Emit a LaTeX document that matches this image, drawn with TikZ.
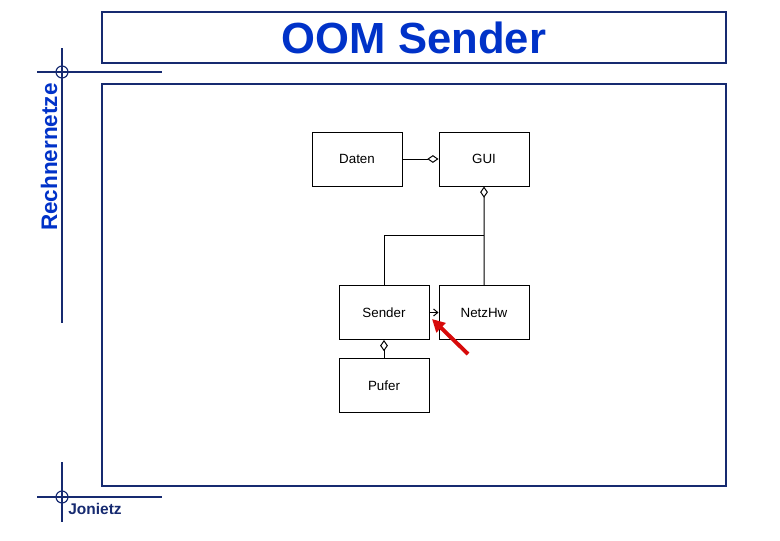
\documentclass[tikz,border=0pt]{standalone}
\usepackage{fontspec}
\setmainfont{Liberation Sans}
\usepackage{xcolor}
\usetikzlibrary{positioning,arrows.meta}

\definecolor{framecol}{RGB}{22,42,112}
\definecolor{titlecol}{RGB}{0,50,200}
\definecolor{hintcol}{RGB}{215,10,10}

\begin{document}
\begin{tikzpicture}[
    x=0.025cm, y=-0.025cm,
    font=\fontsize{9.5}{11}\selectfont,
    cls/.style={draw, line width=0.7pt, minimum width=2.25cm, minimum height=1.35cm, inner sep=0pt},
    link/.style={line width=0.7pt},
    aggr/.style={link, -{Diamond[open, length=8pt, width=5.5pt]}},
    nav/.style={link, -{Straight Barb[length=3pt, width=5pt]}},
    frame/.style={draw=framecol, line width=0.8pt},
    node distance=0.9cm,
]
\useasboundingbox (0,0) rectangle (780,540);

% page frame
\draw[frame] (102,12) rectangle (726,63);
\draw[frame] (102,84) rectangle (726,486);
\node[font=\bfseries\fontsize{31}{31}\selectfont, text=titlecol] (title) at (414,38) {OOM Sender};

% crosshairs
\draw[frame] (62,48) -- (62,323);
\draw[frame] (37,72) -- (162,72);
\draw[frame] (62,72) circle (6);
\draw[frame] (62,462) -- (62,522);
\draw[frame] (37,497) -- (162,497);
\draw[frame] (62,497) circle (6);
\node[rotate=90, font=\bfseries\fontsize{16}{16}\selectfont, text=titlecol] (chair) at (49,157) {Rechnernetze};
\node[font=\bfseries\fontsize{11}{11}\selectfont, text=framecol] (author) at (95,509) {Jonietz};

% classes
\node[cls] (daten) at (357,159) {Daten};
\node[cls, right=of daten] (gui) {GUI};
\node[cls] (sender) at (384,312.5) {Sender};
\node[cls, right=0.225cm of sender] (netzhw) {NetzHw};
\node[cls, below=0.45cm of sender] (pufer) {Pufer};

\coordinate (branch) at (gui.south |- 0,235);

\draw[aggr] (daten) -- (gui);
\draw[aggr] (netzhw) -- (gui);
\draw[link] (sender.north) |- (branch);
\draw[nav] (sender) -- (netzhw);
\draw[aggr] (pufer) -- (sender);

% hint
\coordinate (hinttail) at (468,354);
\draw[hintcol, line width=2.8pt, -{Triangle[length=9pt, width=9pt]}] (hinttail) -- (432,319);
\end{tikzpicture}
\end{document}
